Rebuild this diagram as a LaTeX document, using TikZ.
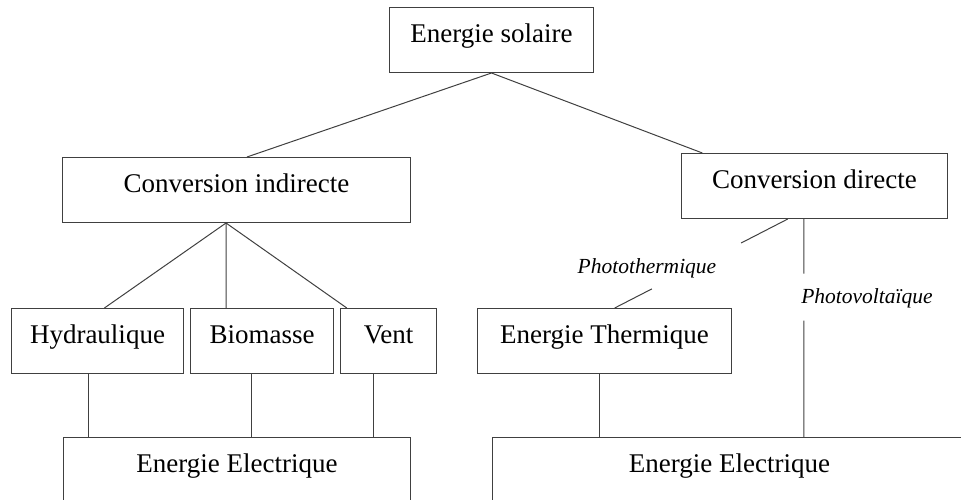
\documentclass[tikz,border=0pt]{standalone}
\usepackage{fontspec}
\setmainfont{Liberation Serif}
\usepackage{tikz}
\usetikzlibrary{positioning, calc}
\tikzset{every node/.style={font=\fontsize{27}{32}\selectfont}}
\colorlet{linecol}{black!75}
\colorlet{textcol}{black}
\tikzset{
  box/.style={draw=linecol, line width=1pt, inner sep=0pt, anchor=north west,
    text height=35pt, text depth=30pt, text=textcol},
  tallbox/.style={box, text depth=70pt},
  tag/.style={font=\fontsize{21.5}{26}\selectfont\itshape, anchor=base,
    inner sep=0pt, text=textcol},
  conn/.style={draw=linecol, line width=1pt}
}

\begin{document}
\begin{tikzpicture}[x=1pt, y=-1pt]
\useasboundingbox (0,0) rectangle (961,500);

% Top
\node[box, minimum width=204pt] (solaire) at (389,7) {Energie solaire};

% Second level
\node[box, minimum width=348pt] (convind) at (62,157) {Conversion indirecte};
\node[box, minimum width=266pt] (convdir) at (681,153) {Conversion directe};

% Third level
\node[box, minimum width=172pt] (hydro) at (11,308) {Hydraulique};
\node[box, minimum width=143pt] (bio) at (190,308) {Biomasse};
\node[box, minimum width=96pt] (vent) at (340,308) {Vent};
\node[box, minimum width=254pt] (thermo) at (477,308) {Energie Thermique};

% Bottom
\node[tallbox, minimum width=347pt] (elecL) at (63,437) {Energie Electrique};
\node[tallbox, minimum width=474pt] (elecR) at (492,437) {Energie Electrique};

% Labels
\node[tag] (photoT) at (647,273) {Photothermique};
\node[tag] (photoV) at (867,303) {Photovoltaïque};

% Top branches
\draw[conn] ($(convind.north west)!0.53!(convind.north east)$)
  -- (solaire.south)
  -- ($(convdir.north west)!0.08!(convdir.north east)$);

% Indirect branches
\coordinate (ci) at ($(convind.south west)!0.47!(convind.south east)$);
\draw[conn] (ci) -- ($(hydro.north west)!0.54!(hydro.north east)$);
\draw[conn] (ci) -- ($(bio.north west)!0.25!(bio.north east)$);
\draw[conn] (ci) -- ($(vent.north west)!0.07!(vent.north east)$);

% Down to electricity (left)
\draw[conn] ($(hydro.south west)!0.45!(hydro.south east)$) coordinate (h1) -- (h1 |- elecL.north);
\draw[conn] ($(bio.south west)!0.43!(bio.south east)$) coordinate (b1) -- (b1 |- elecL.north);
\draw[conn] ($(vent.south west)!0.35!(vent.south east)$) coordinate (v1) -- (v1 |- elecL.north);

% Direct branches
\coordinate (pt1) at ($(convdir.south west)!0.40!(convdir.south east)$);
\coordinate (pt2) at ($(thermo.north west)!0.54!(thermo.north east)$);
\draw[conn] (pt1) -- ($(pt1)!0.27!(pt2)$);
\draw[conn] ($(pt1)!0.785!(pt2)$) -- (pt2);

\coordinate (pv1) at ($(convdir.south west)!0.46!(convdir.south east)$);
\coordinate (pv2) at (pv1 |- elecR.north);
\draw[conn] (pv1) -- ($(pv1)!0.25!(pv2)$);
\draw[conn] ($(pv1)!0.466!(pv2)$) -- (pv2);

% Down to electricity (right)
\draw[conn] ($(thermo.south west)!0.48!(thermo.south east)$) coordinate (t1) -- (t1 |- elecR.north);

\end{tikzpicture}
\end{document}
